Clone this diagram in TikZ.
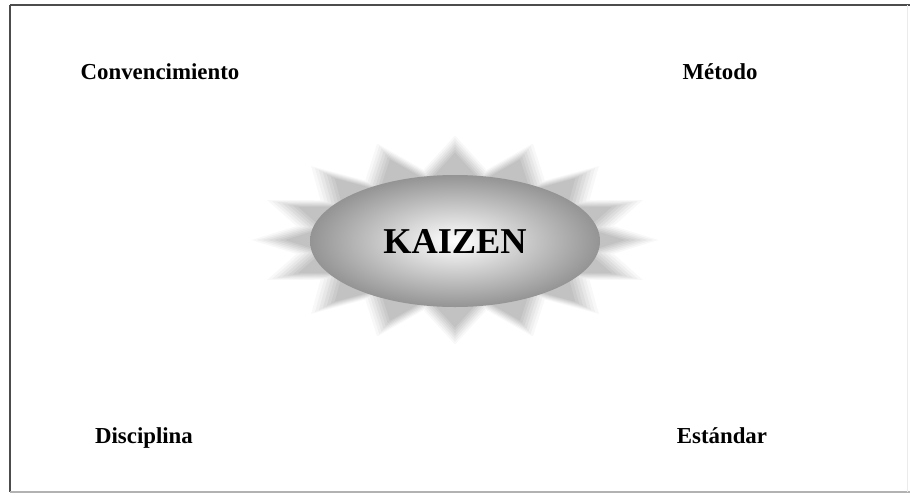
\documentclass[tikz,border=0pt]{standalone}
\usepackage{fontspec}
\setmainfont{Liberation Serif}
\usetikzlibrary{shapes.geometric}
\tikzset{etiqueta/.style={font=\fontsize{13}{15}\selectfont\bfseries,anchor=base}}
\begin{document}
\begin{tikzpicture}[x=0.02cm,y=-0.02cm]
        \useasboundingbox (0,0) rectangle (910,494);
        % Marco
        \draw[black!70,line width=1.2pt] (10,5) -- (910,5);
        \draw[black!70,line width=1pt] (10,5) -- (10,492);
        \draw[black!30,line width=0.6pt] (10,492) -- (910,492);
        \draw[black!8,line width=0.4pt] (907,5) -- (907,492);
        
        % Estrella difuminada
        \foreach \s/\o in {1.10/0.08,1.07/0.1,1.04/0.12,1.01/0.14,0.98/0.16,0.95/0.2,0.92/0.25}{
          \fill[black!35,opacity=\o] ({455+185*\s},240)
            \foreach \k in {1,...,31}{
              -- ({455+(185-38*mod(\k,2))*\s*cos(\k*11.25)},{240+(95-30*mod(\k,2))*\s*sin(\k*11.25)})
            } -- cycle;
        }
        
        % Elipse central
        \node[ellipse,minimum width=290*0.02cm,minimum height=132*0.02cm,inner sep=0pt,
              shading=radial,inner color=white,outer color=black!42] (kaizen) at (455,241)
              {\fontsize{20.7}{24}\selectfont\bfseries KAIZEN};
        
        % Esquinas
        \node[etiqueta] (conv) at (160,79) {Convencimiento};
        \node[etiqueta] (metodo) at (720,79) {Método};
        \node[etiqueta] (disc) at (144,443) {Disciplina};
        \node[etiqueta] (estandar) at (722,443) {Estándar};
    \end{tikzpicture}
\end{document}
